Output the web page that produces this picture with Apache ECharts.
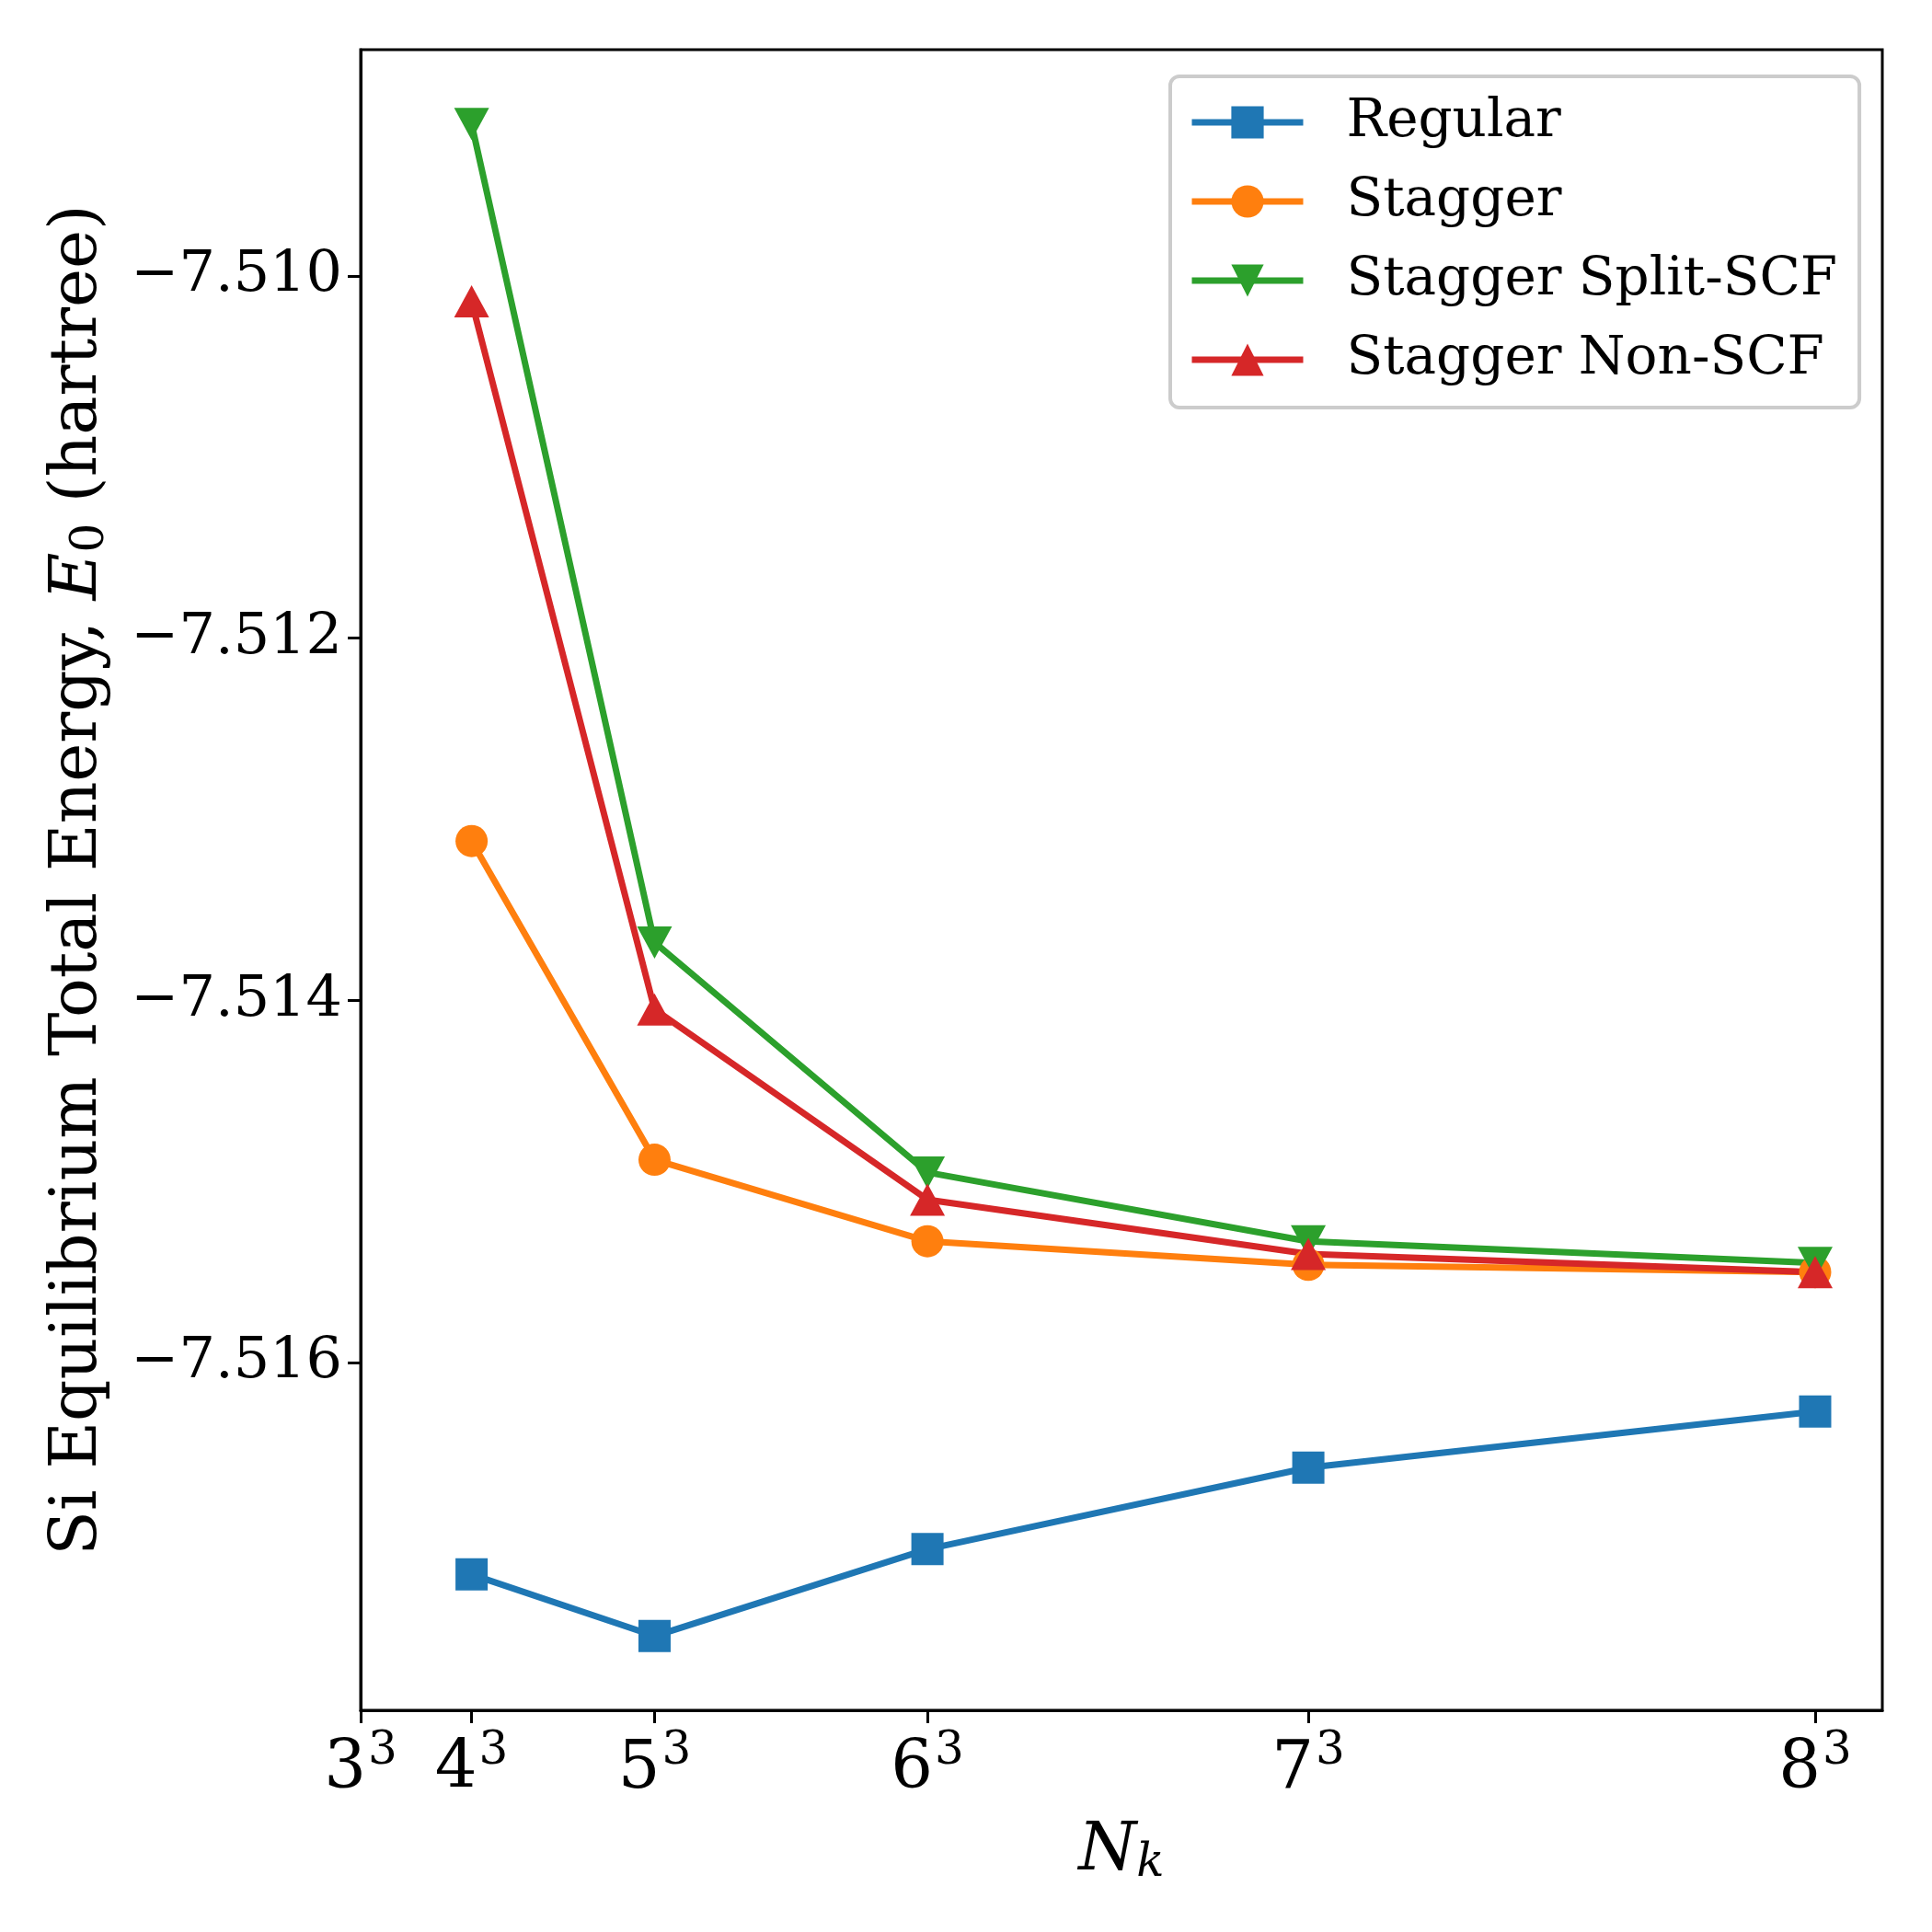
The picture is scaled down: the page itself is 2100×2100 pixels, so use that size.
<!DOCTYPE html>
<html lang="en">
<head>
    <meta charset="UTF-8">
    <title>Si total energy vs Nk</title>
    <script type="text/javascript" src="https://cdn.jsdelivr.net/npm/echarts@6/dist/echarts.min.js"></script>
    <style>
        html, body { margin: 0; padding: 0; background: #fff; }
        #chart1 { width: 2100px; height: 2100px; }
    </style>
</head>
<body>
<div id="chart1"></div>
</body>
<script type="text/javascript">
    // k-point grids (N_k = n^3)
    var nk = [64, 125, 216, 343, 512];
    var xTicks = [27, 64, 125, 216, 343, 512];
    var xTickBase = ['3', '4', '5', '6', '7', '8'];
    var yTicks = [-7.516, -7.514, -7.512, -7.510];

    // energies (hartree)
    var regular = [-7.51717, -7.51751, -7.51703, -7.51658, -7.51627];
    var stagger = [-7.51312, -7.51488, -7.51533, -7.51546, -7.51550];
    var staggerSplit = [-7.50916, -7.51368, -7.51495, -7.51533, -7.51545];
    var staggerNonScf = [-7.51014, -7.51405, -7.51510, -7.51540, -7.51550];

    var serif = 'DejaVu Serif';
    var downTri = 'path://M0,0 L10,0 L5,9 Z';

    function pairs(arr) {
        var out = [];
        for (var i = 0; i < nk.length; i++) {
            out.push([nk[i], arr[i]]);
        }
        return out;
    }

    function mkSeries(name, data, color, symbol, size) {
        return {
            name: name,
            type: 'line',
            data: pairs(data),
            symbol: symbol,
            symbolSize: size,
            showSymbol: true,
            lineStyle: {color: color, width: 7},
            itemStyle: {color: color},
            emphasis: {disabled: true},
            animation: false
        };
    }

    var myChart = echarts.init(document.getElementById('chart1'));
    var option = {
        backgroundColor: '#ffffff',
        textStyle: {fontFamily: serif},
        grid: {
            left: 392, right: 54, top: 54, bottom: 241, containLabel: false,
            show: true, borderColor: '#000', borderWidth: 3, backgroundColor: 'transparent'
        },
        legend: {
            orient: 'vertical',
            left: 1272,
            top: 83,
            padding: [18, 24, 20, 20],
            backgroundColor: 'rgba(255,255,255,0.8)',
            borderColor: '#cccccc',
            borderWidth: 4,
            borderRadius: 10,
            itemWidth: 121,
            itemHeight: 44,
            itemGap: 22,
            lineStyle: {width: 7},
            textStyle: {fontFamily: serif, fontSize: 58, color: '#000', lineHeight: 64, padding: [0, 0, 0, 42]},
            data: ['Regular', 'Stagger', 'Stagger Split-SCF', 'Stagger Non-SCF']
        },
        xAxis: {
            type: 'value',
            min: 27,
            max: 534.4,
            name: '{i|N}{sub|k}',
            nameLocation: 'middle',
            nameGap: 116,
            nameTextStyle: {
                rich: {
                    i: {fontFamily: serif, fontStyle: 'italic', fontSize: 72, color: '#000', lineHeight: 76},
                    sub: {fontFamily: serif, fontStyle: 'italic', fontSize: 50, color: '#000', lineHeight: 30, verticalAlign: 'bottom'}
                }
            },
            axisLine: {lineStyle: {color: '#000', width: 3}},
            axisTick: {show: true, inside: false, length: 14, customValues: xTicks, lineStyle: {color: '#000', width: 3}},
            axisLabel: {
                show: true,
                margin: 20,
                customValues: xTicks,
                formatter: function (v) {
                    return '{b|' + xTickBase[xTicks.indexOf(v)] + '}{s|3}';
                },
                rich: {
                    b: {fontFamily: serif, fontSize: 72, color: '#000', verticalAlign: 'middle'},
                    s: {fontFamily: serif, fontSize: 50, color: '#000', verticalAlign: 'middle', padding: [0, 0, 40, 2]}
                }
            },
            splitLine: {show: false}
        },
        yAxis: {
            type: 'value',
            min: -7.51792,
            max: -7.50875,
            name: 'Si Equilibrium Total Energy, {i|E}{sub|0} (hartree)',
            nameLocation: 'middle',
            nameGap: 268,
            nameTextStyle: {
                fontFamily: serif,
                fontSize: 71,
                color: '#000',
                lineHeight: 76,
                rich: {
                    i: {fontFamily: serif, fontStyle: 'italic', fontSize: 71, color: '#000', lineHeight: 76},
                    sub: {fontFamily: serif, fontSize: 50, color: '#000', lineHeight: 30, verticalAlign: 'bottom'}
                }
            },
            axisLine: {show: true, lineStyle: {color: '#000', width: 3}},
            axisTick: {show: true, inside: false, length: 14, customValues: yTicks, lineStyle: {color: '#000', width: 3}},
            axisLabel: {
                show: true,
                margin: 20,
                customValues: yTicks,
                fontFamily: serif,
                fontSize: 62,
                color: '#000',
                formatter: function (v) {
                    return v.toFixed(3).replace('-', '\u2212');
                }
            },
            splitLine: {show: false}
        },
        series: [
            mkSeries('Regular', regular, '#1f77b4', 'rect', 35),
            mkSeries('Stagger', stagger, '#ff7f0e', 'circle', 35),
            mkSeries('Stagger Split-SCF', staggerSplit, '#2ca02c', downTri, [38, 35]),
            mkSeries('Stagger Non-SCF', staggerNonScf, '#d62728', 'triangle', [38, 35])
        ]
    };
    myChart.setOption(option);
</script>
</html>
